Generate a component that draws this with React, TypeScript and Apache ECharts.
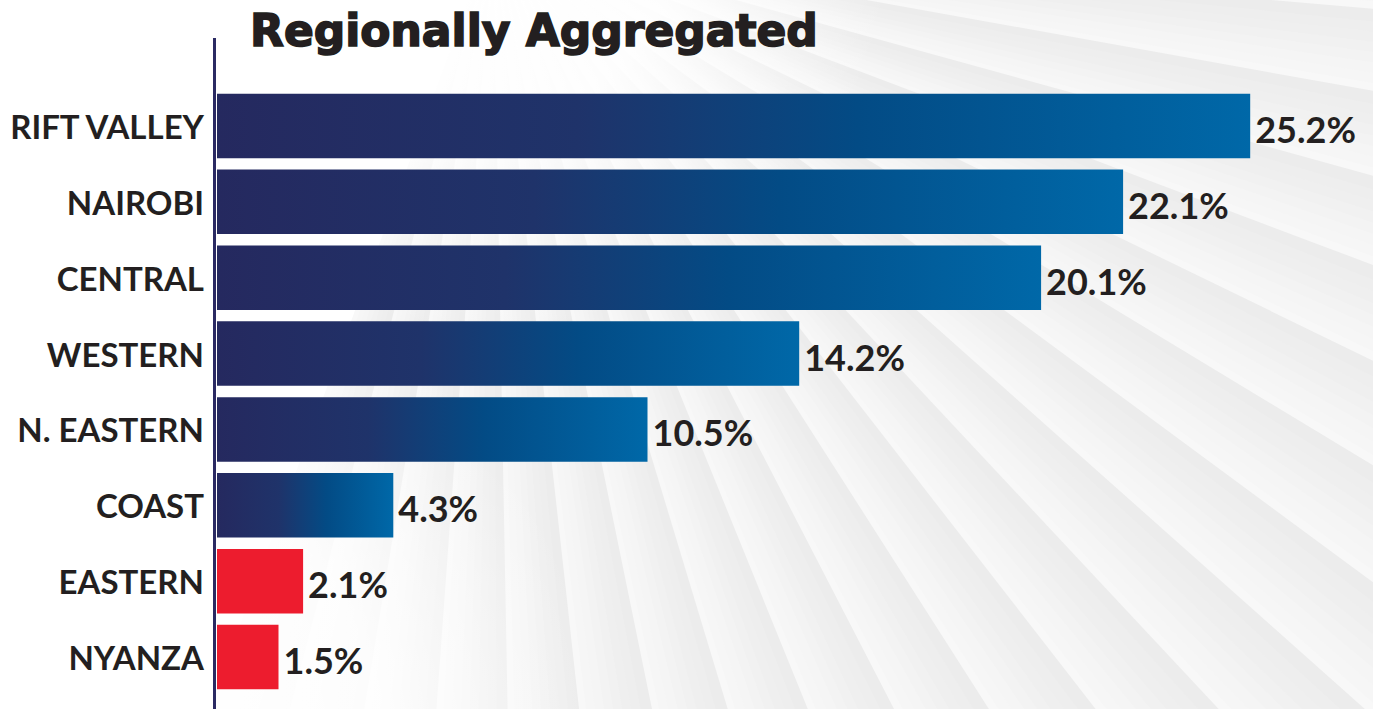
import React, { useEffect, useRef } from "react";
import * as echarts from "echarts";

const titleText = "Regionally Aggregated";
const categories = ["RIFT VALLEY", "NAIROBI", "CENTRAL", "WESTERN", "N. EASTERN", "COAST", "EASTERN", "NYANZA"];
const values = [25.2, 22.1, 20.1, 14.2, 10.5, 4.3, 2.1, 1.5];
const barGroup = ["main", "main", "main", "main", "main", "main", "low", "low"];

const W = 1373;
const H = 709;

function hex(v: number) {
  const s = Math.round(v).toString(16);
  return s.length < 2 ? "0" + s : s;
}

function buildRays() {
  const cx = 493;
  const cy = -67;
  const L = 2600;
  const step = 5.25;
  const subs = 8;
  const out: any[] = [];
  const rad = (d: number) => (d * Math.PI) / 180;
  for (let a = 53.5 - step * 14; a < 95; a += step) {
    for (let s = 0; s < subs; s++) {
      const a1 = a + (step * s) / subs - 0.08;
      const a2 = a + (step * (s + 1)) / subs + 0.08;
      if (a2 < -22) continue;
      const t = s / (subs - 1);
      const c = 248 - t * 12;
      const col = "#" + hex(c) + hex(c) + hex(c);
      out.push({
        type: "polygon",
        silent: true,
        z: -20 + s * 0.01,
        shape: {
          points: [
            [cx, cy],
            [cx + L * Math.sin(rad(a1)), cy + L * Math.cos(rad(a1))],
            [cx + L * Math.sin(rad(a2)), cy + L * Math.cos(rad(a2))],
          ],
        },
        style: { fill: col },
      });
    }
  }
  out.push({
    type: "circle",
    silent: true,
    z: -19,
    shape: { cx, cy, r: 400 },
    style: {
      fill: new echarts.graphic.RadialGradient(0.5, 0.5, 0.5, [
        { offset: 0, color: "rgba(255,255,255,1)" },
        { offset: 0.45, color: "rgba(255,255,255,0.9)" },
        { offset: 1, color: "rgba(255,255,255,0)" },
      ]),
    },
  });
  out.push({
    type: "circle",
    silent: true,
    z: -19,
    shape: { cx: 60, cy: 760, r: 540 },
    style: {
      fill: new echarts.graphic.RadialGradient(0.5, 0.5, 0.5, [
        { offset: 0, color: "rgba(255,255,255,1)" },
        { offset: 0.6, color: "rgba(255,255,255,0.85)" },
        { offset: 1, color: "rgba(255,255,255,0)" },
      ]),
    },
  });
  out.push({
    type: "rect",
    silent: true,
    z: -19,
    shape: { x: 0, y: 0, width: 215, height: H },
    style: {
      fill: new echarts.graphic.LinearGradient(0, 0, 1, 0, [
        { offset: 0, color: "rgba(255,255,255,1)" },
        { offset: 0.7, color: "rgba(255,255,255,0.9)" },
        { offset: 1, color: "rgba(255,255,255,0.5)" },
      ]),
    },
  });
  return out;
}

export default function App() {
  const ref = useRef<HTMLDivElement>(null);
  useEffect(() => {
    if (!ref.current) return;
    const chart = echarts.init(ref.current, undefined, { renderer: "svg" });
    const blueGrad = new echarts.graphic.LinearGradient(0, 0, 1, 0, [
      { offset: 0, color: "#25295f" },
      { offset: 0.35, color: "#1f336a" },
      { offset: 0.62, color: "#034b85" },
      { offset: 1, color: "#0068a8" },
    ]);
    const data = values.map((v, i) => ({
      value: v,
      itemStyle: { color: barGroup[i] === "low" ? "#ed1c2e" : blueGrad },
    }));
    chart.setOption({
      animation: false,
      backgroundColor: "#ffffff",
      title: {
        text: titleText,
        left: 245,
        top: 3,
        textStyle: {
          fontFamily: "DejaVu Sans",
          fontWeight: "bold",
          fontSize: 44,
          color: "#231f20",
          textBorderColor: "#231f20",
          textBorderWidth: 1.6,
        },
      },
      grid: { left: 217, right: 8, top: 88, bottom: 14, containLabel: false },
      xAxis: {
        type: "value",
        min: 0,
        max: 28,
        show: false,
      },
      yAxis: {
        type: "category",
        data: categories,
        inverse: true,
        axisLine: { show: false },
        axisTick: { show: false },
        axisLabel: {
          margin: 13,
          fontFamily: "Lato",
          fontWeight: "bold",
          fontSize: 33,
          color: "#231f20",
          padding: [6, 0, 0, 0],
        },
      },
      graphic: [
        ...buildRays(),
        {
          type: "line",
          silent: true,
          z: 10,
          shape: { x1: 214.5, y1: 38, x2: 214.5, y2: H },
          style: { stroke: "#2b2a63", lineWidth: 3 },
        },
      ],
      series: [
        {
          type: "bar",
          data,
          barCategoryGap: "15%",
          label: {
            show: true,
            position: "right",
            distance: 5,
            offset: [0, 3],
            formatter: (p: any) => `${p.value}%`,
            fontFamily: "Lato",
            fontWeight: "bold",
            fontSize: 36,
            color: "#231f20",
          },
        },
      ],
    });
    return () => chart.dispose();
  }, []);
  return (
    <div
      ref={ref}
      style={{ position: "fixed", left: 0, top: 0, width: W, height: H }}
    />
  );
}
